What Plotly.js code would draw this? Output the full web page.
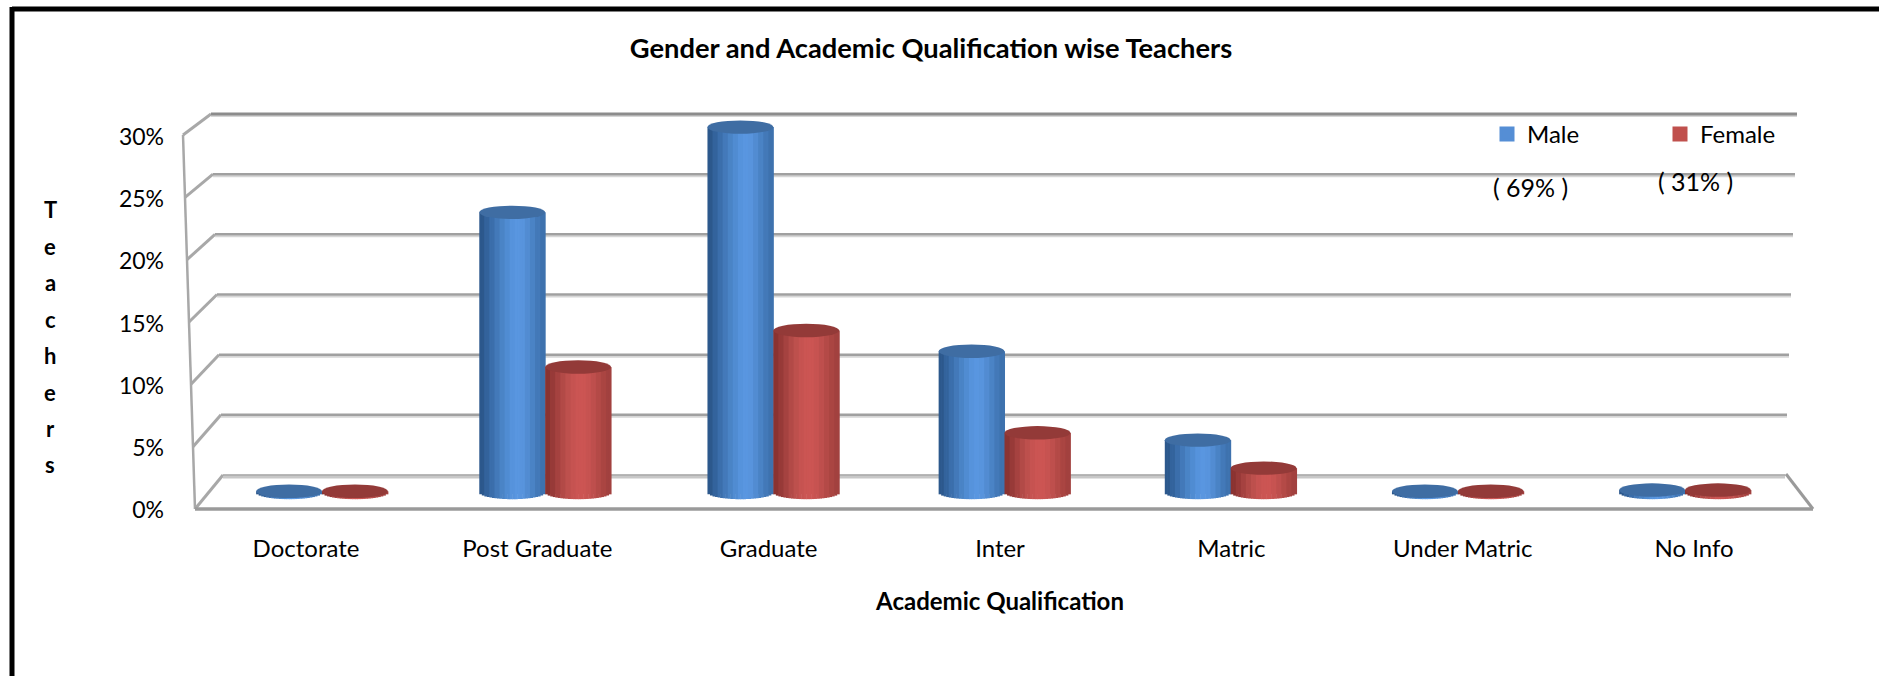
<!DOCTYPE html>
<html>
<head>
<meta charset="utf-8">
<script src="https://cdn.plot.ly/plotly-3.0.1.min.js"></script>
<style>html,body{margin:0;padding:0;background:#fff}#chart{width:1879px;height:676px}</style>
</head>
<body>
<div id="chart"></div>
<script>
// ---- data ----
const categories = ["Doctorate","Post Graduate","Graduate","Inter","Matric","Under Matric","No Info"];
const maleValues = [0.1,23.0,30,11.6,4.3,0.1,0.2];
const femaleValues = [0.1,10.3,13.3,4.9,2.0,0.1,0.2];
const tickValues = [0,5,10,15,20,25,30];
const tickLabels = ["0%","5%","10%","15%","20%","25%","30%"];
const seriesNames = ["Male","Female"];
const genderShares = ["( 69% )","( 31% )"];
const titleText = "Gender and Academic Qualification wise Teachers";
const xTitleText = "Academic Qualification";
const yTitleLetters = ["T","e","a","c","h","e","r","s"];

// ---- styling ----
const W = 1879, H = 676;
const FONT = "Lato, 'Open Sans', sans-serif";
const px = v => v / W, py = v => 1 - v / H;
const bluePal = ["#2c588c","#33639c","#3b6eab","#4379b9","#4a84c6","#508cd2","#5693dc","#5996e0","#5894dd","#528cd2","#4a83c5","#4379b8","#3e72ae"];
const redPal  = ["#8a3331","#973a38","#a54240","#b24a47","#bd504d","#c65351","#cb5553","#cc5553","#c75351","#be4f4d","#b44a47","#aa4542","#a2413f"];

// y axis of the bars: y=0 at 492.5 px, 12.18 px per unit, plot from 100 to 520 px
const yTopPx = 100, yBotPx = 520, yZero = 492.5, yScale = 12.18;
// y axis of the labels: 0 at 510 px, 30 at 137 px
const lScale = (510-137)/30;
// x axis of the bars: centres 322..1685 px; x axis of the labels: 306..1694 px
const bStep = (1685-322)/6, lStep = (1694-306)/6;

// bar cylinder geometry in axis units
const barW = 0.29;       // one cylinder's width in category units
const ellH = 0.55;       // half height of the end ellipse in y units
const groupNudge = [0,-4,-3,1,0,0,0].map(p=>p/bStep); // perspective shift of each group
const traces = [];

function addCylinder(values, name, base, pal, side){
  // flat base bar carries the legend entry
  traces.push({type:"bar", x:categories, y:values, name:name, showlegend:true,
    width:barW*0.9, offset: groupNudge.map(g=>g+(side===0 ? -barW*0.95 : barW*0.05)), legendgroup:name,
    marker:{color:base, line:{color:base, width:3}}, hoverinfo:"x+y"});
  const n = pal.length * 2;
  for(let i=0;i<n;i++){
    const w = barW/n;
    const t = (i+0.5)/n*2-1;
    const dip = ellH*Math.sqrt(1-t*t);
    const start = (side===0 ? -barW : 0) + i*w;
    traces.push({type:"bar", x:categories, y:values.map(v=>v+dip), base:-dip,
      width:w*1.2, offset:groupNudge.map(g=>g+start), name:name, legendgroup:name, showlegend:false,
      marker:{color:pal[Math.floor(i/2)], line:{width:0}}, hoverinfo:"skip"});
  }
}
addCylinder(maleValues, seriesNames[0], "#558ed5", bluePal, 0);
addCylinder(femaleValues, seriesNames[1], "#c0504d", redPal, 1);
// invisible trace that carries the label axes
traces.push({type:"scatter", x:categories, y:maleValues, xaxis:"x2", yaxis:"y2", mode:"markers",
  marker:{opacity:0}, showlegend:false, hoverinfo:"skip"});

// ---- frame of the 3-D box, built from the ticks ----
const shapes = [];
const lerp = (a,b,t)=>a+(b-a)*t;
const line = (x0,y0,x1,y1,color,width)=>shapes.push({type:"line",xref:"paper",yref:"paper",layer:"below",
  x0:px(x0),y0:py(y0),x1:px(x1),y1:py(y1),line:{color:color,width:width}});
tickValues.forEach(v=>{
  const t = v/30;
  const bl = lerp(223,211,t), br = lerp(1785,1797,t), by = lerp(475,114,t);
  const fx = lerp(195,183,t), fy = lerp(509,135,t);
  line(fx,fy,bl,by,"#a8a8a8",3);
  if(v===0){
    line(bl,by+2,br,by+2,"#c8c8c8",3);
    line(bl,by,br,by,"#a0a0a0",1.5);
  } else {
    line(bl,by+2,br,by+2,"#d6d6d6",2);
    line(bl,by,br,by,v===30?"#8c8c8c":"#a0a0a0",v===30?3:2.5);
  }
});
line(183,135,195,509,"#a8a8a8",2.5);
line(195,509,1813,509,"#9a9a9a",3.5);
line(1786,474,1813,509,"#9a9a9a",3);
// outer black frame
line(12,9,1879,9,"#000",5);
line(12,7,12,676,"#000",5);

// ellipse tops of the cylinders, tied to the data axes
function addTops(values, color, side){
  values.forEach((v,i)=>{
    const c = i + groupNudge[i] + (side===0 ? -barW/2 : barW/2);
    shapes.push({type:"circle", xref:"x", yref:"y", layer:"above",
      x0:c-barW/2, x1:c+barW/2, y0:v-ellH, y1:v+ellH,
      fillcolor:color, line:{color:color,width:0}});
  });
}
addTops(maleValues,"#3f6da3",0);
addTops(femaleValues,"#933a38",1);

// ---- text ----
const annotations = [];
yTitleLetters.forEach((ch,i)=>annotations.push({xref:"paper",yref:"paper",x:px(50),y:py(210+i*36.4),
  text:"<b>"+ch+"</b>",showarrow:false,font:{family:FONT,size:22,color:"#000"},xanchor:"center",yanchor:"middle"}));
annotations.push({xref:"paper",yref:"paper",x:px(1530),y:py(187),text:genderShares[0],showarrow:false,
  font:{family:FONT,size:25,color:"#000"},xanchor:"center",yanchor:"middle"});
annotations.push({xref:"paper",yref:"paper",x:px(1695),y:py(181),text:genderShares[1],showarrow:false,
  font:{family:FONT,size:25,color:"#000"},xanchor:"center",yanchor:"middle"});

const layout = {
  width:W, height:H, margin:{l:0,r:0,t:0,b:0,autoexpand:false}, paper_bgcolor:"#fff", plot_bgcolor:"rgba(0,0,0,0)",
  showlegend:true, barmode:"overlay", shapes:shapes, annotations:annotations,
  font:{family:FONT,color:"#000"},
  title:{text:"<b>"+titleText+"</b>", x:931/W, xanchor:"center", y:1-48/H, yanchor:"middle", font:{family:FONT,size:27.3,color:"#000"}},
  legend:{orientation:"h", xref:"container", yref:"container", x:px(1487), y:py(112), xanchor:"left", yanchor:"top", entrywidth:128, entrywidthmode:"pixels",
    font:{family:FONT,size:24,color:"#000"}, bgcolor:"rgba(0,0,0,0)", itemclick:false, itemdoubleclick:false},
  xaxis:{type:"category", categoryorder:"array", categoryarray:categories, domain:[px(322-bStep/2), px(1685+bStep/2)],
    range:[-0.5,6.5], showgrid:false, zeroline:false, showline:false, ticks:"", showticklabels:false, fixedrange:true},
  yaxis:{domain:[py(yBotPx), py(yTopPx)], range:[(yZero-yBotPx)/yScale,(yZero-yTopPx)/yScale],
    showgrid:false, zeroline:false, showline:false, ticks:"", showticklabels:false, fixedrange:true},
  xaxis2:{type:"category", categoryorder:"array", categoryarray:categories, anchor:"y2",
    domain:[px(306-lStep/2), px(1694+lStep/2)], range:[-0.5,6.5], tickvals:categories, ticktext:categories,
    showgrid:false, zeroline:false, showline:false, ticks:"", ticklen:0, ticklabelstandoff:2,
    tickfont:{family:FONT,size:24,color:"#000"}, fixedrange:true,
    title:{text:"<b>"+xTitleText+"</b>", standoff:32, font:{family:FONT,size:24,color:"#000"}}},
  yaxis2:{anchor:"free", position:px(164), side:"left",
    domain:[py(530), py(yTopPx)], range:[(510-530)/lScale,(510-yTopPx)/lScale], tickvals:tickValues, ticktext:tickLabels,
    showgrid:false, zeroline:false, showline:false, ticks:"", ticklen:0,
    tickfont:{family:FONT,size:23,color:"#000"}, fixedrange:true}
};
Plotly.newPlot("chart", traces, layout, {displayModeBar:false, responsive:false});
</script>
</body>
</html>
